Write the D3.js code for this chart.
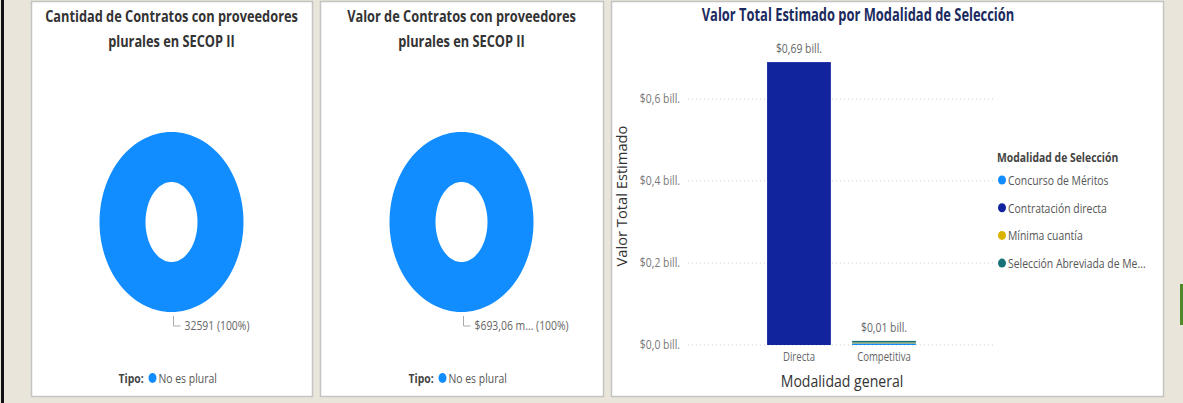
<!DOCTYPE html>
<html>
<head>
<meta charset="utf-8">
<script src="https://cdn.jsdelivr.net/npm/d3@7"></script>
<style>
  body { margin: 0; background: #e9e5da; }
  svg { display: block; font-family: "Open Sans", "DejaVu Sans", sans-serif; }
</style>
</head>
<body>
<script>
// datos de las tarjetas de dona
const tipoCategorias = ["No es plural"];
const cantidadContratos = [32591];
const valorContratos = [693.06]; // en miles de millones
const etiquetaCantidad = ["32591 (100%)"];
const etiquetaValor = ["$693,06 m... (100%)"];

// datos del grafico de barras apiladas (en billones)
const modalidadGeneral = ["Directa", "Competitiva"];
const modalidades = ["Concurso de Méritos", "Contratación directa", "Mínima cuantía", "Selección Abreviada de Me..."];
const valoresPorModalidad = {
  "Directa":     [0, 0.69, 0, 0],
  "Competitiva": [0.004, 0, 0.002, 0.004]
};
const totalesLabel = ["$0,69 bill.", "$0,01 bill."];
const yTicks = [0, 0.2, 0.4, 0.6];
const coloresModalidad = ["#118DFF", "#12239E", "#D9B300", "#197278"];

const W = 1183, H = 403;
const SX = 0.8; // el pantallazo viene comprimido en horizontal

const svg = d3.select("body").append("svg")
  .attr("width", W).attr("height", H);

svg.append("rect").attr("width", W).attr("height", H).attr("fill", "#e9e5da");
svg.append("rect").attr("x", 1).attr("y", 0).attr("width", 3).attr("height", H).attr("fill", "#111");
svg.append("rect").attr("x", 1180).attr("y", 284).attr("width", 3).attr("height", 41).attr("fill", "#4e8a2c");

function txt(g, x, y, s, o = {}) {
  return g.append("text")
    .attr("transform", `translate(${x},${y}) scale(${o.sx || SX},1)`)
    .attr("text-anchor", o.anchor || "middle")
    .attr("font-size", o.size || 12)
    .attr("font-weight", o.weight || "normal")
    .attr("fill", o.color || "#666")
    .text(s);
}

function panel(x, y, w, h) {
  svg.append("rect").attr("x", x + 0.5).attr("y", y + 0.5).attr("width", w).attr("height", h)
    .attr("fill", "#fff").attr("stroke", "#c4c4c4").attr("stroke-width", 1.5);
}

// anillo eliptico (la captura deforma la dona)
function anillo(d, rxO, ryO, rxI, ryI) {
  const n = 120;
  const ang = d3.range(n + 1).map(i => d.startAngle + (d.endAngle - d.startAngle) * i / n);
  const pt = (a, rx, ry) => [rx * Math.sin(a), -ry * Math.cos(a)];
  const outer = ang.map(a => pt(a, rxO, ryO));
  const inner = ang.slice().reverse().map(a => pt(a, rxI, ryI));
  return "M" + outer.join("L") + "Z M" + inner.join("L") + "Z";
}

// ---- donas ----
function dona(x0, w, titulo, valores, etiqueta) {
  panel(x0, 1, w, 395);
  const g = svg.append("g");
  const cx = x0 + w / 2;
  txt(g, cx, 22, titulo[0], { size: 16, weight: "bold", color: "#333" });
  txt(g, cx, 47, titulo[1], { size: 16, weight: "bold", color: "#333" });

  const cy = 222;
  const pie = d3.pie().sort(null)(valores);
  g.append("g").attr("transform", `translate(${cx},${cy})`)
    .selectAll("path").data(pie).enter().append("path")
    .attr("d", d => anillo(d, 72, 90, 26, 40))
    .attr("fill-rule", "evenodd")
    .attr("fill", "#118DFF");

  // linea guia y etiqueta
  g.append("path")
    .attr("d", `M${cx + 2},${cy + 94} V${cy + 104} H${cx + 9}`)
    .attr("fill", "none").attr("stroke", "#aaa").attr("stroke-width", 1);
  txt(g, cx + 13, cy + 108, etiqueta[0], { anchor: "start", size: 13, color: "#666" });

  // leyenda
  const ly = 383;
  const lg = g.append("g");
  txt(lg, cx - 53, ly, "Tipo:", { size: 13, weight: "bold", color: "#444", anchor: "start" });
  lg.append("ellipse").attr("cx", cx - 19).attr("cy", ly - 5).attr("rx", 4).attr("ry", 5).attr("fill", "#118DFF");
  txt(lg, cx - 13, ly, tipoCategorias[0], { size: 13, color: "#555", anchor: "start" });
}

dona(31, 281, ["Cantidad de Contratos con proveedores", "plurales en SECOP II"], cantidadContratos, etiquetaCantidad);
dona(320, 283, ["Valor de Contratos con proveedores", "plurales en SECOP II"], valorContratos, etiquetaValor);

// ---- barras ----
panel(611, 1, 552, 395);
const gb = svg.append("g");
txt(gb, 858, 21, "Valor Total Estimado por Modalidad de Selección",
  { size: 17, weight: "bold", color: "#1b2a5e", sx: 0.76 });

const y = d3.scaleLinear().domain([0, 0.6]).range([345, 99]);
const x = d3.scaleBand().domain(modalidadGeneral).range([688, 995])
  .paddingInner(0.25).paddingOuter(0.93);

// grilla
gb.append("g").selectAll("line").data(yTicks).enter().append("line")
  .attr("x1", 688).attr("x2", 995)
  .attr("y1", d => y(d)).attr("y2", d => y(d))
  .attr("stroke", "#d0d0d0").attr("stroke-dasharray", "1,3");

const fmt = d => "$" + d3.format(".1f")(d).replace(".", ",") + " bill.";
yTicks.forEach(t => txt(gb, 680, y(t) + 4, fmt(t), { anchor: "end", size: 13, color: "#777" }));

// pila
const filas = modalidadGeneral.map(m => {
  const o = { cat: m };
  modalidades.forEach((k, i) => { o[k] = valoresPorModalidad[m][i]; });
  return o;
});
const series = d3.stack().keys(modalidades)(filas);
gb.append("g").selectAll("g").data(series).enter().append("g")
  .attr("fill", (d, i) => coloresModalidad[i])
  .selectAll("rect").data(d => d).enter().append("rect")
  .attr("x", d => x(d.data.cat))
  .attr("width", x.bandwidth())
  .attr("y", d => y(d[1]))
  .attr("height", d => y(d[0]) - y(d[1]));

modalidadGeneral.forEach((m, i) => {
  const tot = d3.sum(valoresPorModalidad[m]);
  txt(gb, x(m) + x.bandwidth() / 2, y(tot) - 9, totalesLabel[i], { size: 13, color: "#666" });
  txt(gb, x(m) + x.bandwidth() / 2, 361, m, { size: 12, color: "#666" });
});

txt(gb, 842, 387, "Modalidad general", { size: 16, color: "#333", sx: 0.88 });
gb.append("text")
  .attr("transform", "translate(627,196) rotate(-90) scale(0.98,1)")
  .attr("text-anchor", "middle").attr("font-size", 15).attr("fill", "#333")
  .text("Valor Total Estimado");

// leyenda
txt(gb, 997, 162, "Modalidad de Selección", { anchor: "start", size: 13, weight: "bold", color: "#444" });
modalidades.forEach((m, i) => {
  const ly = 180 + i * 27.7;
  gb.append("ellipse").attr("cx", 1002).attr("cy", ly).attr("rx", 4).attr("ry", 4.5).attr("fill", coloresModalidad[i]);
  txt(gb, 1008, ly + 5, m, { anchor: "start", size: 13, color: "#555" });
});
</script>
</body>
</html>
